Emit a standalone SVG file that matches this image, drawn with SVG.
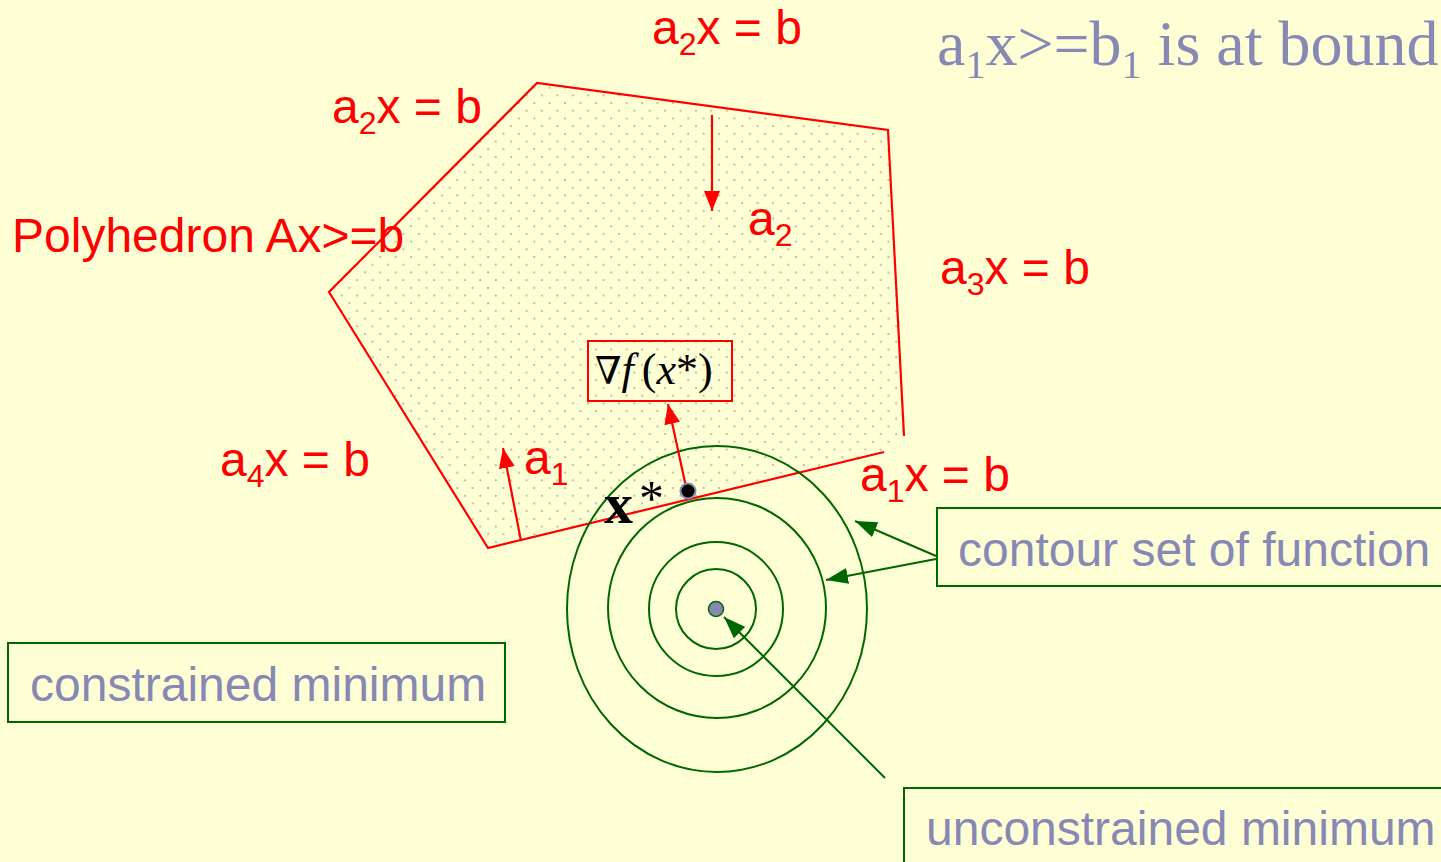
<svg xmlns="http://www.w3.org/2000/svg" width="1441" height="862" viewBox="0 0 1441 862">
<defs>
<pattern id="dots" patternUnits="userSpaceOnUse" width="15.4" height="15.4">
<circle cx="3" cy="3" r="1.1" fill="#b4b49c"/>
<circle cx="10.7" cy="10.7" r="1.1" fill="#b4b49c"/>
</pattern>
<marker id="ra" viewBox="0 0 20 16" refX="20" refY="8" markerWidth="20" markerHeight="16" markerUnits="userSpaceOnUse" orient="auto">
<path d="M0,0 L20,8 L0,16 z" fill="#ff0000"/>
</marker>
<marker id="ga" viewBox="0 0 22 16" refX="22" refY="8" markerWidth="22" markerHeight="16" markerUnits="userSpaceOnUse" orient="auto">
<path d="M0,0 L22,8 L0,16 z" fill="#006600"/>
</marker>
</defs>
<style>
.red{font-family:"Liberation Sans",Arial,sans-serif;font-size:48px;fill:#ff0000}
.gray{font-family:"Liberation Sans",Arial,sans-serif;font-size:48px;fill:#8888b4}
.redline{stroke:#ff0000;stroke-width:2.2;fill:none}
.green{stroke:#006600;stroke-width:2;fill:none}
.box{fill:none;stroke:#006600;stroke-width:2}
.serif{font-family:"Liberation Serif","Times New Roman",serif}
</style>
<rect x="0" y="0" width="1441" height="862" fill="#ffffd6"/>

<g id="polyhedron">
<path d="M537,83 L888,130 L904,436 L884,452 L488,548 L329,292 Z" fill="url(#dots)" stroke="none"/>
<path d="M904,436 L888,130 L537,83 L329,292 L488,548 L884,452" class="redline"/>
</g>

<g id="contours">
<ellipse cx="717" cy="609" rx="150" ry="163" class="green"/>
<ellipse cx="717" cy="608" rx="109" ry="110" class="green"/>
<ellipse cx="716" cy="609" rx="67" ry="67" class="green"/>
<ellipse cx="716" cy="609" rx="40" ry="40" class="green"/>
</g>

<g id="unconstrained-point">
<circle cx="716" cy="609" r="7.5" fill="#8888b4" stroke="#006600" stroke-width="1.5"/>
</g>

<g id="connectors">
<line x1="712" y1="115" x2="712" y2="211" class="redline" marker-end="url(#ra)"/>
<line x1="521" y1="541" x2="503" y2="448" class="redline" marker-end="url(#ra)"/>
<line x1="686" y1="487" x2="668" y2="404" class="redline" marker-end="url(#ra)"/>
<line x1="936" y1="556" x2="855" y2="521" class="green" marker-end="url(#ga)"/>
<line x1="936" y1="559" x2="826" y2="580" class="green" marker-end="url(#ga)"/>
<line x1="885" y1="778" x2="724" y2="617" class="green" marker-end="url(#ga)"/>
</g>

<g id="xstar">
<circle cx="688" cy="491" r="7.5" fill="#000000" stroke="#8888b4" stroke-width="2"/>
<text x="604" y="523" class="serif" font-size="58" font-weight="bold" fill="#000">x</text>
<text x="639" y="515" class="serif" font-size="50" fill="#000">*</text>
</g>

<g id="gradient-label">
<rect x="588" y="341" width="144" height="60" fill="none" stroke="#ff0000" stroke-width="2"/>
<text x="595" y="384" class="serif" font-size="44" fill="#000"><tspan font-family="'DejaVu Serif',serif" font-size="38">∇</tspan><tspan font-style="italic">f</tspan><tspan dx="8">(</tspan><tspan font-style="italic">x</tspan>*)</text>
</g>

<g id="labels">
<text class="red" x="652" y="44">a<tspan font-size="32" dy="11">2</tspan><tspan dy="-11">x = b</tspan></text>
<text class="red" x="332" y="123">a<tspan font-size="32" dy="11">2</tspan><tspan dy="-11">x = b</tspan></text>
<text class="red" x="12" y="252">Polyhedron Ax&gt;=b</text>
<text class="red" x="748" y="235">a<tspan font-size="32" dy="11">2</tspan></text>
<text class="red" x="940" y="284">a<tspan font-size="32" dy="11">3</tspan><tspan dy="-11">x = b</tspan></text>
<text class="red" x="220" y="476">a<tspan font-size="32" dy="11">4</tspan><tspan dy="-11">x = b</tspan></text>
<text class="red" x="524" y="474">a<tspan font-size="32" dy="11">1</tspan></text>
<text class="red" x="860" y="491">a<tspan font-size="32" dy="11">1</tspan><tspan dy="-11">x = b</tspan></text>
</g>

<g id="title">
<text x="937" y="65" class="serif" font-size="64" fill="#8888b4">a<tspan font-size="40" dy="13">1</tspan><tspan dy="-13">x&gt;=b</tspan><tspan font-size="40" dy="13">1</tspan><tspan dy="-13"> is at bound.</tspan></text>
</g>

<g id="contour-box">
<rect x="937" y="508" width="520" height="78" class="box"/>
<text class="gray" x="958" y="566">contour set of function</text>
</g>

<g id="constrained-box">
<rect x="8" y="643" width="497" height="79" class="box"/>
<text class="gray" x="30" y="701">constrained minimum</text>
</g>

<g id="unconstrained-box">
<rect x="904" y="788" width="560" height="100" class="box"/>
<text class="gray" x="926" y="845">unconstrained minimum</text>
</g>
</svg>
